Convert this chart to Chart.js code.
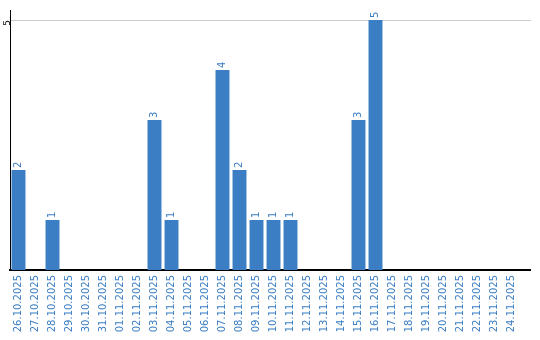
<!DOCTYPE html>
<html>
<head>
<meta charset="utf-8">
<script src="https://cdn.jsdelivr.net/npm/chart.js@4"></script>
<style>
html,body{margin:0;padding:0;background:#fff;}
#c{display:block;}
</style>
</head>
<body>
<canvas id="c" width="540" height="340"></canvas>
<script>
const categories = ["26.10.2025","27.10.2025","28.10.2025","29.10.2025","30.10.2025","31.10.2025","01.11.2025","02.11.2025","03.11.2025","04.11.2025","05.11.2025","06.11.2025","07.11.2025","08.11.2025","09.11.2025","10.11.2025","11.11.2025","12.11.2025","13.11.2025","14.11.2025","15.11.2025","16.11.2025","17.11.2025","18.11.2025","19.11.2025","20.11.2025","21.11.2025","22.11.2025","23.11.2025","24.11.2025"];
const counts = [2,0,1,0,0,0,0,0,3,1,0,0,4,2,1,1,1,0,0,0,3,5,0,0,0,0,0,0,0,0];
const yTicks = [5];

const BLUE = '#3b7ec3';

const valueLabels = {
  id: 'valueLabels',
  afterDatasetsDraw(chart) {
    const ctx = chart.ctx;
    const meta = chart.getDatasetMeta(0);
    ctx.save();
    ctx.font = '10px "DejaVu Sans"';
    ctx.fillStyle = BLUE;
    ctx.textAlign = 'left';
    ctx.textBaseline = 'middle';
    meta.data.forEach((bar, i) => {
      const v = counts[i];
      if (!v) return;
      ctx.save();
      ctx.translate(bar.x, bar.y - 2);
      ctx.rotate(-Math.PI / 2);
      ctx.fillText(String(v), 0, 0);
      ctx.restore();
    });
    ctx.restore();
  }
};

const extendLines = {
  id: 'extendLines',
  afterDraw(chart) {
    const ctx = chart.ctx;
    const a = chart.chartArea;
    const y = chart.scales.y;
    ctx.save();
    ctx.lineWidth = 1;
    ctx.strokeStyle = '#cccccc';
    yTicks.forEach(t => {
      const py = Math.round(y.getPixelForValue(t)) + 0.5;
      ctx.beginPath(); ctx.moveTo(a.right, py); ctx.lineTo(a.right + 11, py); ctx.stroke();
    });
    ctx.strokeStyle = '#000';
    ctx.lineWidth = 2;
    ctx.beginPath(); ctx.moveTo(a.right - 1, a.bottom); ctx.lineTo(a.right + 11, a.bottom); ctx.stroke();
    ctx.restore();
  }
};

new Chart(document.getElementById('c'), {
  type: 'bar',
  data: {
    labels: categories,
    datasets: [{
      data: counts,
      backgroundColor: BLUE,
      barPercentage: 0.82,
      categoryPercentage: 1.0
    }]
  },
  options: {
    responsive: false,
    animation: false,
    layout: { padding: { top: 10, right: 20, left: 0, bottom: 0 } },
    plugins: { legend: { display: false }, tooltip: { enabled: false } },
    scales: {
      x: {
        afterFit(s) { s.height = 70; },
        grid: { display: false, drawTicks: false },
        border: { display: true, color: '#000', width: 2 },
        ticks: {
          color: BLUE,
          font: { family: 'DejaVu Sans', size: 10 },
          minRotation: 90, maxRotation: 90,
          autoSkip: false,
          padding: 5
        }
      },
      y: {
        min: 0, max: 5.2,
        afterFit(s) { s.width = 10; },
        afterBuildTicks(s) { s.ticks = yTicks.map(v => ({ value: v })); },
        grid: { color: '#cccccc', drawTicks: false },
        border: { display: true, color: '#000', width: 1 },
        ticks: {
          color: '#000',
          font: { family: 'DejaVu Sans', size: 9 },
          minRotation: 90, maxRotation: 90,
          padding: 2
        }
      }
    }
  },
  plugins: [valueLabels, extendLines]
});
</script>
</body>
</html>
